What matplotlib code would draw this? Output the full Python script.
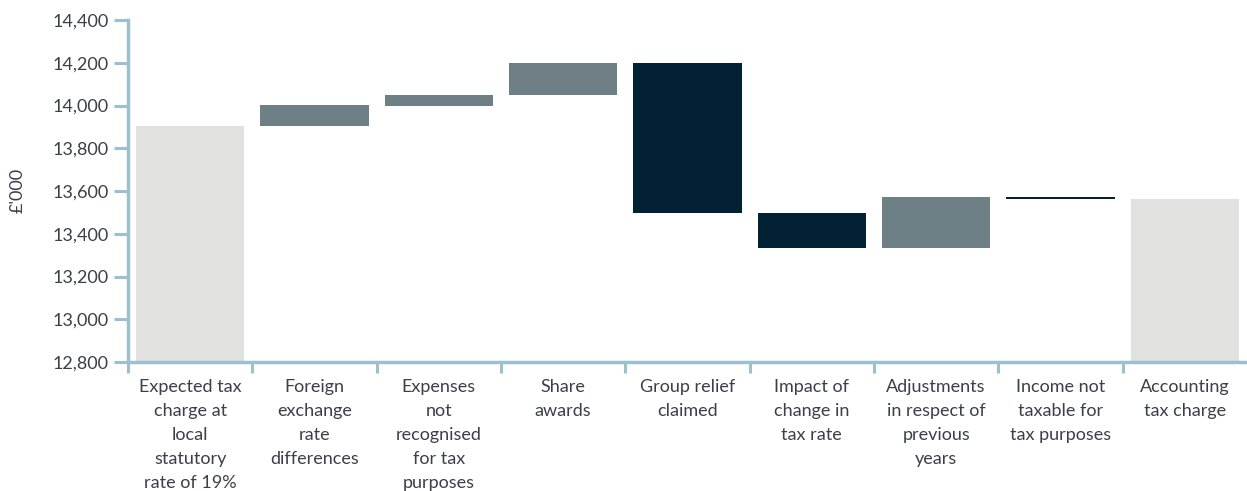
import matplotlib
matplotlib.use("Agg")
import matplotlib.pyplot as plt
import numpy as np

categories = [
    "Expected tax\ncharge at\nlocal\nstatutory\nrate of 19%",
    "Foreign\nexchange\nrate\ndifferences",
    "Expenses\nnot\nrecognised\nfor tax\npurposes",
    "Share\nawards",
    "Group relief\nclaimed",
    "Impact of\nchange in\ntax rate",
    "Adjustments\nin respect of\nprevious\nyears",
    "Income not\ntaxable for\ntax purposes",
    "Accounting\ntax charge",
]
start_value = 13904
changes = [96, 51, 149, -704, -162, 240, -10]
yticks = [12800, 13000, 13200, 13400, 13600, 13800, 14000, 14200, 14400]

c_total = "#E1E2E0"
c_up = "#6F7F86"
c_down = "#022134"
c_axis = "#9DC0CF"
c_text = "#3A3F4A"

plt.rcParams['font.family'] = ['Lato', 'DejaVu Sans']

fig = plt.figure(figsize=(12.47, 4.91), dpi=100)
ax = fig.add_axes([128/1247, 1 - 362/491, 1 - 128/1247, (362 - 20)/491])

ymin = yticks[0]
end_value = start_value + sum(changes)
ax.bar(0, start_value - ymin, bottom=ymin, width=0.87, color=c_total)
ax.bar(len(categories) - 1, end_value - ymin, bottom=ymin, width=0.87, color=c_total)
run = start_value
for i, ch in enumerate(changes, start=1):
    bottom = run if ch >= 0 else run + ch
    ax.bar(i, abs(ch), bottom=bottom, width=0.87, color=c_up if ch >= 0 else c_down)
    run += ch

ax.set_xlim(-0.5, len(categories) - 0.5)
ax.set_ylim(yticks[0], yticks[-1])
ax.set_yticks(yticks)
ax.set_yticklabels([f"{v:,}" for v in yticks], color=c_text, fontsize=13)
ax.tick_params(axis='y', direction='out', length=10, width=2.2, color=c_axis, pad=4)

ax.set_xticks(np.arange(len(categories)))
ax.set_xticklabels(categories, color=c_text, fontsize=13, linespacing=1.62, va='top')
ax.tick_params(axis='x', which='major', length=0, pad=12)
ax.set_xticks(np.arange(len(categories)) - 0.5, minor=True)
ax.tick_params(axis='x', which='minor', direction='out', length=8, width=2.2, color=c_axis)

for s in ['top', 'right']:
    ax.spines[s].set_visible(False)
for s in ['left', 'bottom']:
    ax.spines[s].set_color(c_axis)
    ax.spines[s].set_linewidth(2.5)

fig.text(18/1247, 1 - 190/491, "£'000", rotation=90, ha='center', va='center',
         color=c_text, fontsize=13)

fig.savefig("out.png", dpi=100)
